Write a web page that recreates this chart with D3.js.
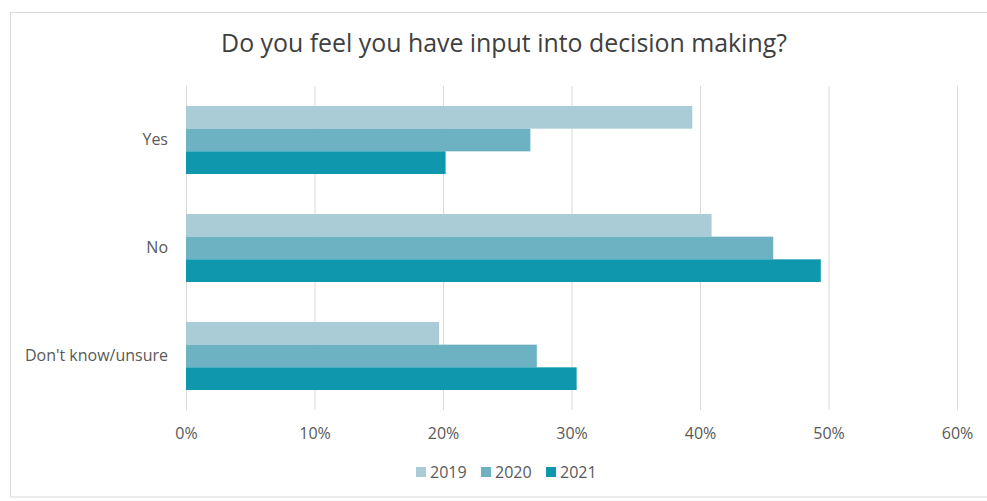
<!DOCTYPE html>
<html><head><meta charset="utf-8">
<script src="https://cdn.jsdelivr.net/npm/d3@7"></script>
<style>body{margin:0;background:#fff;} svg{display:block;}</style>
</head><body>
<svg id="c" width="987" height="501"></svg>
<script>
const categories = ["Yes", "No", "Don't know/unsure"];
const seriesNames = ["2019", "2020", "2021"];
const values2019 = [39.4, 40.9, 19.7];
const values2020 = [26.8, 45.7, 27.3];
const values2021 = [20.2, 49.4, 30.4];
const tickValues = [0, 10, 20, 30, 40, 50, 60];
const colors = ["#a9ccd7", "#6cb2c2", "#0f97ad"];
const title = "Do you feel you have input into decision making?";

const series = [values2019, values2020, values2021];
const svg = d3.select("#c");
const font = "'Open Sans', sans-serif";

function fit(sel, target) {
  const w = sel.node().getComputedTextLength();
  const fs = parseFloat(sel.attr("font-size"));
  return fs * target / w;
}

svg.append("rect").attr("x", 10.5).attr("y", 12.5).attr("width", 990).attr("height", 484.5)
  .attr("fill", "#fff").attr("stroke", "#d9d9d9");

const x = d3.scaleLinear().domain([0, 60]).range([186, 957]);
const y = d3.scaleBand().domain(categories).range([86, 410]).paddingInner(0.37).paddingOuter(0.185);
const ySub = d3.scaleBand().domain(seriesNames).range([0, y.bandwidth()]);

svg.append("g").selectAll("line").data(tickValues).join("line")
  .attr("x1", d => x(d) + 0.5).attr("x2", d => x(d) + 0.5)
  .attr("y1", 86).attr("y2", 410)
  .attr("stroke", "#d9d9d9").attr("stroke-width", 1);

const g = svg.append("g");
series.forEach((vals, si) => {
  g.selectAll(null).data(vals).join("rect")
    .attr("x", x(0))
    .attr("y", (d, i) => y(categories[i]) + ySub(seriesNames[si]))
    .attr("width", d => x(d) - x(0))
    .attr("height", ySub.bandwidth())
    .attr("fill", colors[si]);
});

const yAxis = d3.axisLeft(y).tickSize(0).tickPadding(0);
const ya = svg.append("g").attr("transform", "translate(168,0)").call(yAxis);
ya.select(".domain").remove();
ya.selectAll("text").attr("font-family", font).attr("font-size", 14).attr("fill", "#595959");
const longest = ya.selectAll("text").filter(d => d === "Don't know/unsure");
const labelSize = Math.min(16, fit(longest, 146));
ya.selectAll("text").attr("font-size", labelSize);

const xAxis = d3.axisBottom(x).tickValues(tickValues).tickFormat(d => d + "%").tickSize(0).tickPadding(0);
const xa = svg.append("g").attr("transform", "translate(0,439)").call(xAxis);
xa.select(".domain").remove();
xa.selectAll("text").attr("font-family", font).attr("font-size", labelSize).attr("fill", "#595959").attr("dy", 0);

const t = svg.append("text").attr("x", 504).attr("y", 52).attr("text-anchor", "middle")
  .attr("font-family", font).attr("font-size", 20).attr("fill", "#404040").text(title);
t.attr("font-size", fit(t, 566));

const legX = [416, 481, 546];
const leg = svg.append("g");
seriesNames.forEach((s, i) => {
  leg.append("rect").attr("x", legX[i]).attr("y", 467).attr("width", 10).attr("height", 10).attr("fill", colors[i]);
  leg.append("text").attr("x", legX[i] + 14).attr("y", 477.5).attr("font-family", font)
    .attr("font-size", labelSize).attr("fill", "#595959").text(s);
});
</script>
</body></html>
